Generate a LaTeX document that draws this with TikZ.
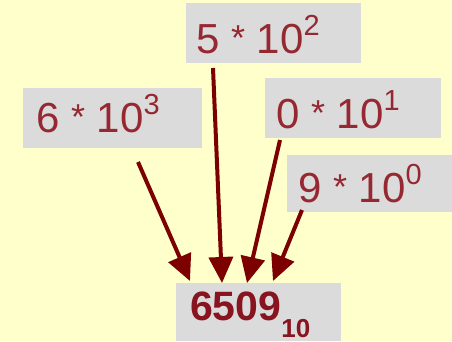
\documentclass[tikz,border=0pt]{standalone}
\usepackage{fontspec}
\setmainfont{Liberation Sans}
\usetikzlibrary{arrows.meta}
\definecolor{bgyellow}{RGB}{255,255,204}
\definecolor{boxgray}{RGB}{219,219,219}
\definecolor{labelred}{RGB}{150,40,50}
\definecolor{numred}{RGB}{135,20,30}
\definecolor{arrowred}{RGB}{125,0,0}
\newcommand{\myast}{\raisebox{3pt}{\fontsize{36}{36}\selectfont *}}
\newcommand{\term}[2]{{\fontsize{42}{44}\selectfont #1 \myast{} 10\raisebox{18pt}{\fontsize{29}{29}\selectfont #2}}}
\begin{document}
\begin{tikzpicture}[x=1pt,y=-1pt,
  box/.style={fill=boxgray, inner sep=0pt, anchor=north west},
  lbl/.style={anchor=base west, inner sep=0pt, text=labelred},
  conn/.style={draw=arrowred, line width=4pt, -{Triangle[width=24pt,length=26pt]}}]
\useasboundingbox[fill=bgyellow] (0,0) rectangle (452,341);
% boxes
\node[box, minimum width=175pt, minimum height=60pt] (b2) at (186,3) {};
\node[box, minimum width=179pt, minimum height=60pt] (b3) at (23,88) {};
\node[box, minimum width=176pt, minimum height=60pt] (b1) at (265,78) {};
\node[box, minimum width=165pt, minimum height=57pt] (b0) at (287,155) {};
\node[box, minimum width=165pt, minimum height=58pt] (res) at (176,283) {};
% labels
\node[lbl] (t2) at (196,53) {\term{5}{2}};
\node[lbl] (t3) at (36,132) {\term{6}{3}};
\node[lbl] (t1) at (276,128) {\term{0}{1}};
\node[lbl] (t0) at (298,202) {\term{9}{0}};
\node[lbl, text=numred] (tr) at (190,320) {\fontsize{41}{43}\selectfont\bfseries 6509\raisebox{-17pt}[0pt][0pt]{\fontsize{26}{26}\selectfont 10}};
% connector ends
\coordinate (s3) at (138,162);
\coordinate (e3) at (190,281);
\coordinate (s2) at (213,68);
\coordinate (e2) at (222,283);
\coordinate (s1) at (280,140);
\coordinate (e1) at (247,283);
\coordinate (s0) at (302,210);
\coordinate (e0) at (273,281);
\draw[conn] (s3) -- (e3);
\draw[conn] (s2) -- (e2);
\draw[conn] (s1) -- (e1);
\draw[conn] (s0) -- (e0);
\end{tikzpicture}
\end{document}
